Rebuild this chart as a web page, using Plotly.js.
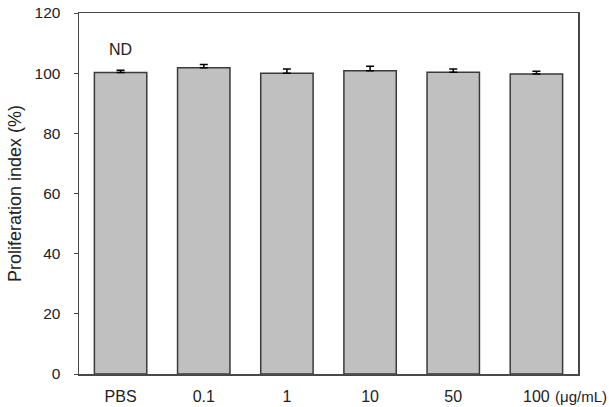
<!DOCTYPE html>
<html>
<head>
<meta charset="utf-8">
<script src="https://cdn.plot.ly/plotly-3.0.1.min.js"></script>
<style>html,body{margin:0;padding:0;background:#fff;}#chart{width:609px;height:407px;}</style>
</head>
<body>
<div id="chart"></div>
<script>
const categories = ["PBS", "0.1", "1", "10", "50", "100"];
const proliferation = [100.2, 101.8, 100.0, 100.8, 100.3, 99.7];
const errors = [0.8, 1.1, 1.4, 1.5, 1.1, 0.9];
const yTicks = [0, 20, 40, 60, 80, 100, 120];
const unitLabel = "(μg/mL)";
const ndLabel = "ND";

const font = "Arial, 'Liberation Sans', sans-serif";

const trace = {
  type: "bar",
  x: categories,
  y: proliferation,
  marker: {color: "#c0c0c0", line: {color: "#3a3a3a", width: 1.5}},
  error_y: {type: "data", symmetric: false, array: errors, arrayminus: errors.map(() => 0),
            color: "#000", thickness: 1.5, width: 4},
  hoverinfo: "none"
};

const layout = {
  width: 609, height: 407,
  margin: {l: 79, r: 31, t: 13, b: 33},
  paper_bgcolor: "#fff", plot_bgcolor: "#fff",
  bargap: 0.37,
  showlegend: false,
  font: {family: font, color: "#222", size: 16},
  xaxis: {
    type: "category",
    showline: true, mirror: true, linecolor: "#484848", linewidth: 1.5,
    ticks: "", showgrid: false, zeroline: false,
    tickfont: {size: 16, family: font, color: "#222"},
    ticklabelstandoff: 7
  },
  yaxis: {
    range: [0, 120], tickvals: yTicks,
    showline: true, mirror: true, linecolor: "#484848", linewidth: 1.5,
    ticks: "outside", ticklen: 4, tickcolor: "#484848", tickwidth: 1,
    showgrid: false, zeroline: false,
    tickfont: {size: 15.5, family: font, color: "#222"},
    ticklabelstandoff: 10,
    title: {text: "Proliferation index (%)", font: {size: 18, family: font, color: "#222"}, standoff: 8}
  },
  annotations: [
    {x: "PBS", y: 108, xref: "x", yref: "y", text: ndLabel, showarrow: false,
     font: {size: 16, family: font, color: "#222"}},
    {x: (553 - 79) / 499, y: -0.061, xref: "paper", yref: "paper", text: unitLabel, showarrow: false,
     xanchor: "left", yanchor: "middle", font: {size: 15, family: font, color: "#222"}}
  ]
};

Plotly.newPlot("chart", [trace], layout, {displayModeBar: false, staticPlot: true});
</script>
</body>
</html>
